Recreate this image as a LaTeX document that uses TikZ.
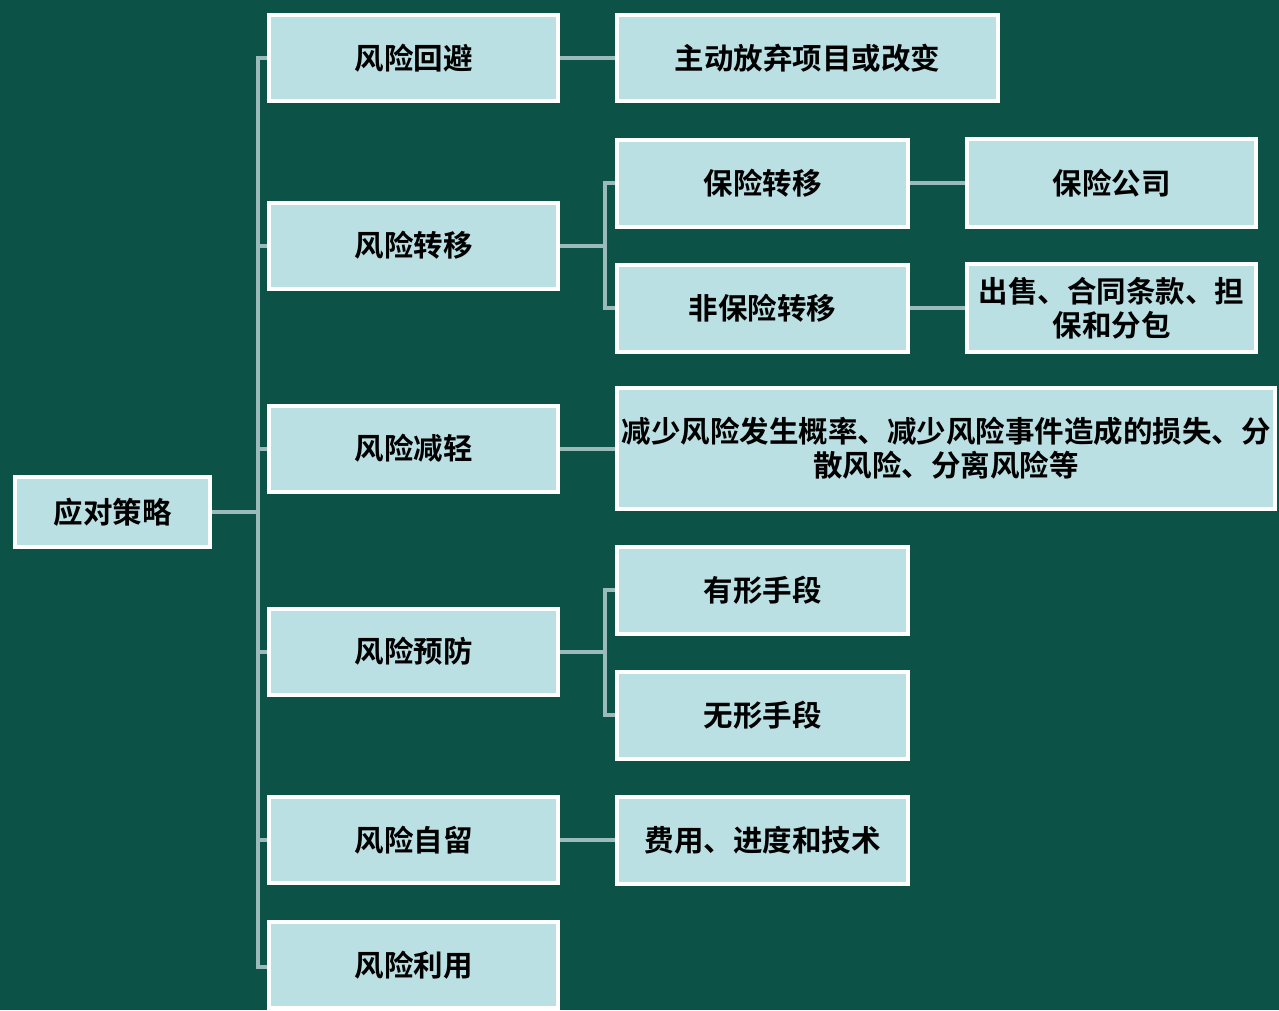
\documentclass[tikz,border=0pt]{standalone}
\usepackage{fontspec}
\setmainfont{Noto Sans CJK SC}
\newfontfamily\cjk{Noto Sans CJK SC}[BoldFont={* Bold}]
\definecolor{bgc}{HTML}{0D5247}
\definecolor{boxc}{HTML}{BAE0E3}
\definecolor{linec}{HTML}{9BBABA}
\begin{document}
\begin{tikzpicture}[x=1pt,y=-1pt,
  box/.style={draw=white, line width=4pt, fill=boxc, inner sep=2pt, align=center,
    font=\cjk\bfseries\fontsize{29.5}{34}\selectfont, text=black},
  conn/.style={draw=linec, line width=4pt}]
\fill[bgc] (0,0) rectangle (1279,1010);
\useasboundingbox (0,0) rectangle (1279,1010);
% root
\node[box, minimum width=195pt, minimum height=70pt] (root) at (112.5,512) {应对策略};
% column 2
\tikzset{c2/.style={box, minimum width=289pt, minimum height=86pt}}
\node[c2] (b1) at (413.5,58) {风险回避};
\node[c2] (b2) at (413.5,245.5) {风险转移};
\node[c2] (b3) at (413.5,448.5) {风险减轻};
\node[c2] (b4) at (413.5,651.5) {风险预防};
\node[c2] (b5) at (413.5,840) {风险自留};
\node[c2] (b6) at (413.5,965) {风险利用};
% column 3
\tikzset{c3/.style={box, minimum width=291pt, minimum height=87pt}}
\node[box, minimum width=381pt, minimum height=86pt] (c1) at (807.5,58) {主动放弃项目或改变};
\node[c3] (c2a) at (762.5,183) {保险转移};
\node[c3] (c2b) at (762.5,308) {非保险转移};
\node[box, minimum width=658pt, minimum height=121pt] (c3x) at (946,448.5) {减少风险发生概率、减少风险事件造成的损失、分\\散风险、分离风险等};
\node[c3] (c4a) at (762.5,590) {有形手段};
\node[c3] (c4b) at (762.5,715) {无形手段};
\node[c3] (c5) at (762.5,840) {费用、进度和技术};
% column 4
\tikzset{c4/.style={box, minimum width=289pt, minimum height=88pt}}
\node[c4] (d1) at (1111.5,183) {保险公司};
\node[c4] (d2) at (1111.5,308) {出售、合同条款、担\\保和分包};
% connectors
\coordinate (t) at (258,512);
\coordinate (s2) at (605,245.5);
\coordinate (s4) at (605,651.5);
\draw[conn] (root.east) -- (t);
\foreach \b in {b1,b2,b3,b4,b5} \draw[conn] (t) |- (\b.west);
\draw[conn] (t) |- ([yshift=-2pt]b6.west);
\draw[conn] (b1.east) -- (c1.west);
\draw[conn] (b2.east) -- (s2);
\draw[conn] (s2) |- (c2a.west);
\draw[conn] (s2) |- (c2b.west);
\draw[conn] (c2a.east) -- (d1.west);
\draw[conn] (c2b.east) -- (d2.west);
\draw[conn] (b3.east) -- (c3x.west);
\draw[conn] (b4.east) -- (s4);
\draw[conn] (s4) |- (c4a.west);
\draw[conn] (s4) |- (c4b.west);
\draw[conn] (b5.east) -- (c5.west);
\end{tikzpicture}
\end{document}
